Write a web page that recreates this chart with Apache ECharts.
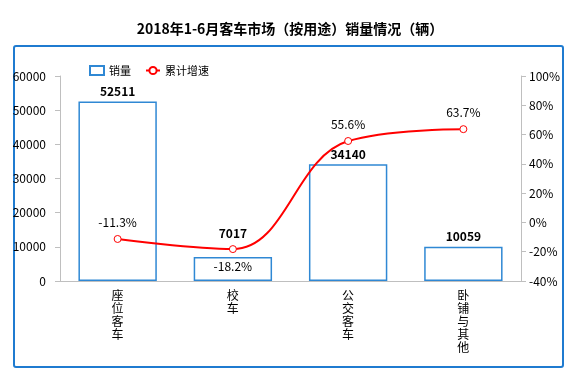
<!DOCTYPE html>
<html><head><meta charset="utf-8">
<script src="https://cdn.jsdelivr.net/npm/echarts@6/dist/echarts.min.js"></script>
<style>html,body{margin:0;padding:0;background:#fff}#c{width:580px;height:381px}</style>
</head><body><div id="c"></div>
<script>
const categories = ['座位客车', '校车', '公交客车', '卧铺与其他'];
const sales = [52511, 7017, 34140, 10059];
const growth = [-11.3, -18.2, 55.6, 63.7];
const titleText = '2018年1-6月客车市场（按用途）销量情况（辆）';

const chart = echarts.init(document.getElementById('c'));
const font = '"Microsoft YaHei","Noto Sans CJK SC","Noto Sans",sans-serif';
chart.setOption({
  backgroundColor: '#fff',
  animation: false,
  title: { text: titleText, left: 'center', top: 17, textStyle: { fontSize: 14, fontWeight: 'bold', color: '#000', fontFamily: font } },
  graphic: [{ type: 'rect', shape: { x: 14, y: 46, width: 549, height: 321, r: 2 }, style: { fill: 'none', stroke: '#1f7bd0', lineWidth: 2 }, z: -1 }],
  legend: {
    left: 84, top: 60, itemGap: 14, itemWidth: 14, itemHeight: 9,
    textStyle: { fontSize: 11, color: '#000', fontFamily: font },
    data: [{ name: '销量', icon: 'rect' }, { name: '累计增速' }]
  },
  grid: { left: 60, right: 59, top: 76, bottom: 100 },
  xAxis: {
    type: 'category', data: categories,
    axisLine: { lineStyle: { color: '#bfbfbf' } },
    axisTick: { lineStyle: { color: '#bfbfbf' } },
    axisLabel: { color: '#000', fontSize: 12, fontFamily: font, lineHeight: 13, margin: 8,
      formatter: v => v.split('').join('\n') }
  },
  yAxis: [
    { type: 'value', min: 0, max: 60000, interval: 10000,
      axisLine: { show: true, lineStyle: { color: '#bfbfbf' } },
      axisTick: { show: true, lineStyle: { color: '#bfbfbf' } },
      splitLine: { show: false },
      axisLabel: { color: '#000', fontSize: 12, fontFamily: font, margin: 14, formatter: v => String(v) } },
    { type: 'value', min: -40, max: 100, interval: 20,
      axisLine: { show: true, lineStyle: { color: '#bfbfbf' } },
      axisTick: { show: true, lineStyle: { color: '#bfbfbf' } },
      splitLine: { show: false },
      axisLabel: { color: '#000', fontSize: 12, fontFamily: font, margin: 8, formatter: '{value}%' } }
  ],
  series: [
    { name: '销量', type: 'bar', data: sales.map((v, i) => ({ value: v, label: i === 1 ? { offset: [0, -14] } : {} })), barWidth: '68%',
      itemStyle: { color: '#fff', borderColor: '#2f88d4', borderWidth: 1.5 },
      label: { show: true, position: 'top', color: '#000', fontWeight: 'bold', fontSize: 12, fontFamily: font, distance: 4 } },
    { name: '累计增速', type: 'line', yAxisIndex: 1, data: growth.map((v, i) => ({ value: v, label: { position: i === 1 ? 'bottom' : 'top' } })),
      smooth: 0.4, symbol: 'circle', symbolSize: 7,
      lineStyle: { color: '#ff0000', width: 2 },
      itemStyle: { color: '#fff', borderColor: '#ff0000', borderWidth: 1 },
      label: { show: true, color: '#000', fontSize: 12, fontFamily: font, distance: 7, formatter: p => p.value.toFixed(1) + '%' } }
  ]
});
</script></body></html>
